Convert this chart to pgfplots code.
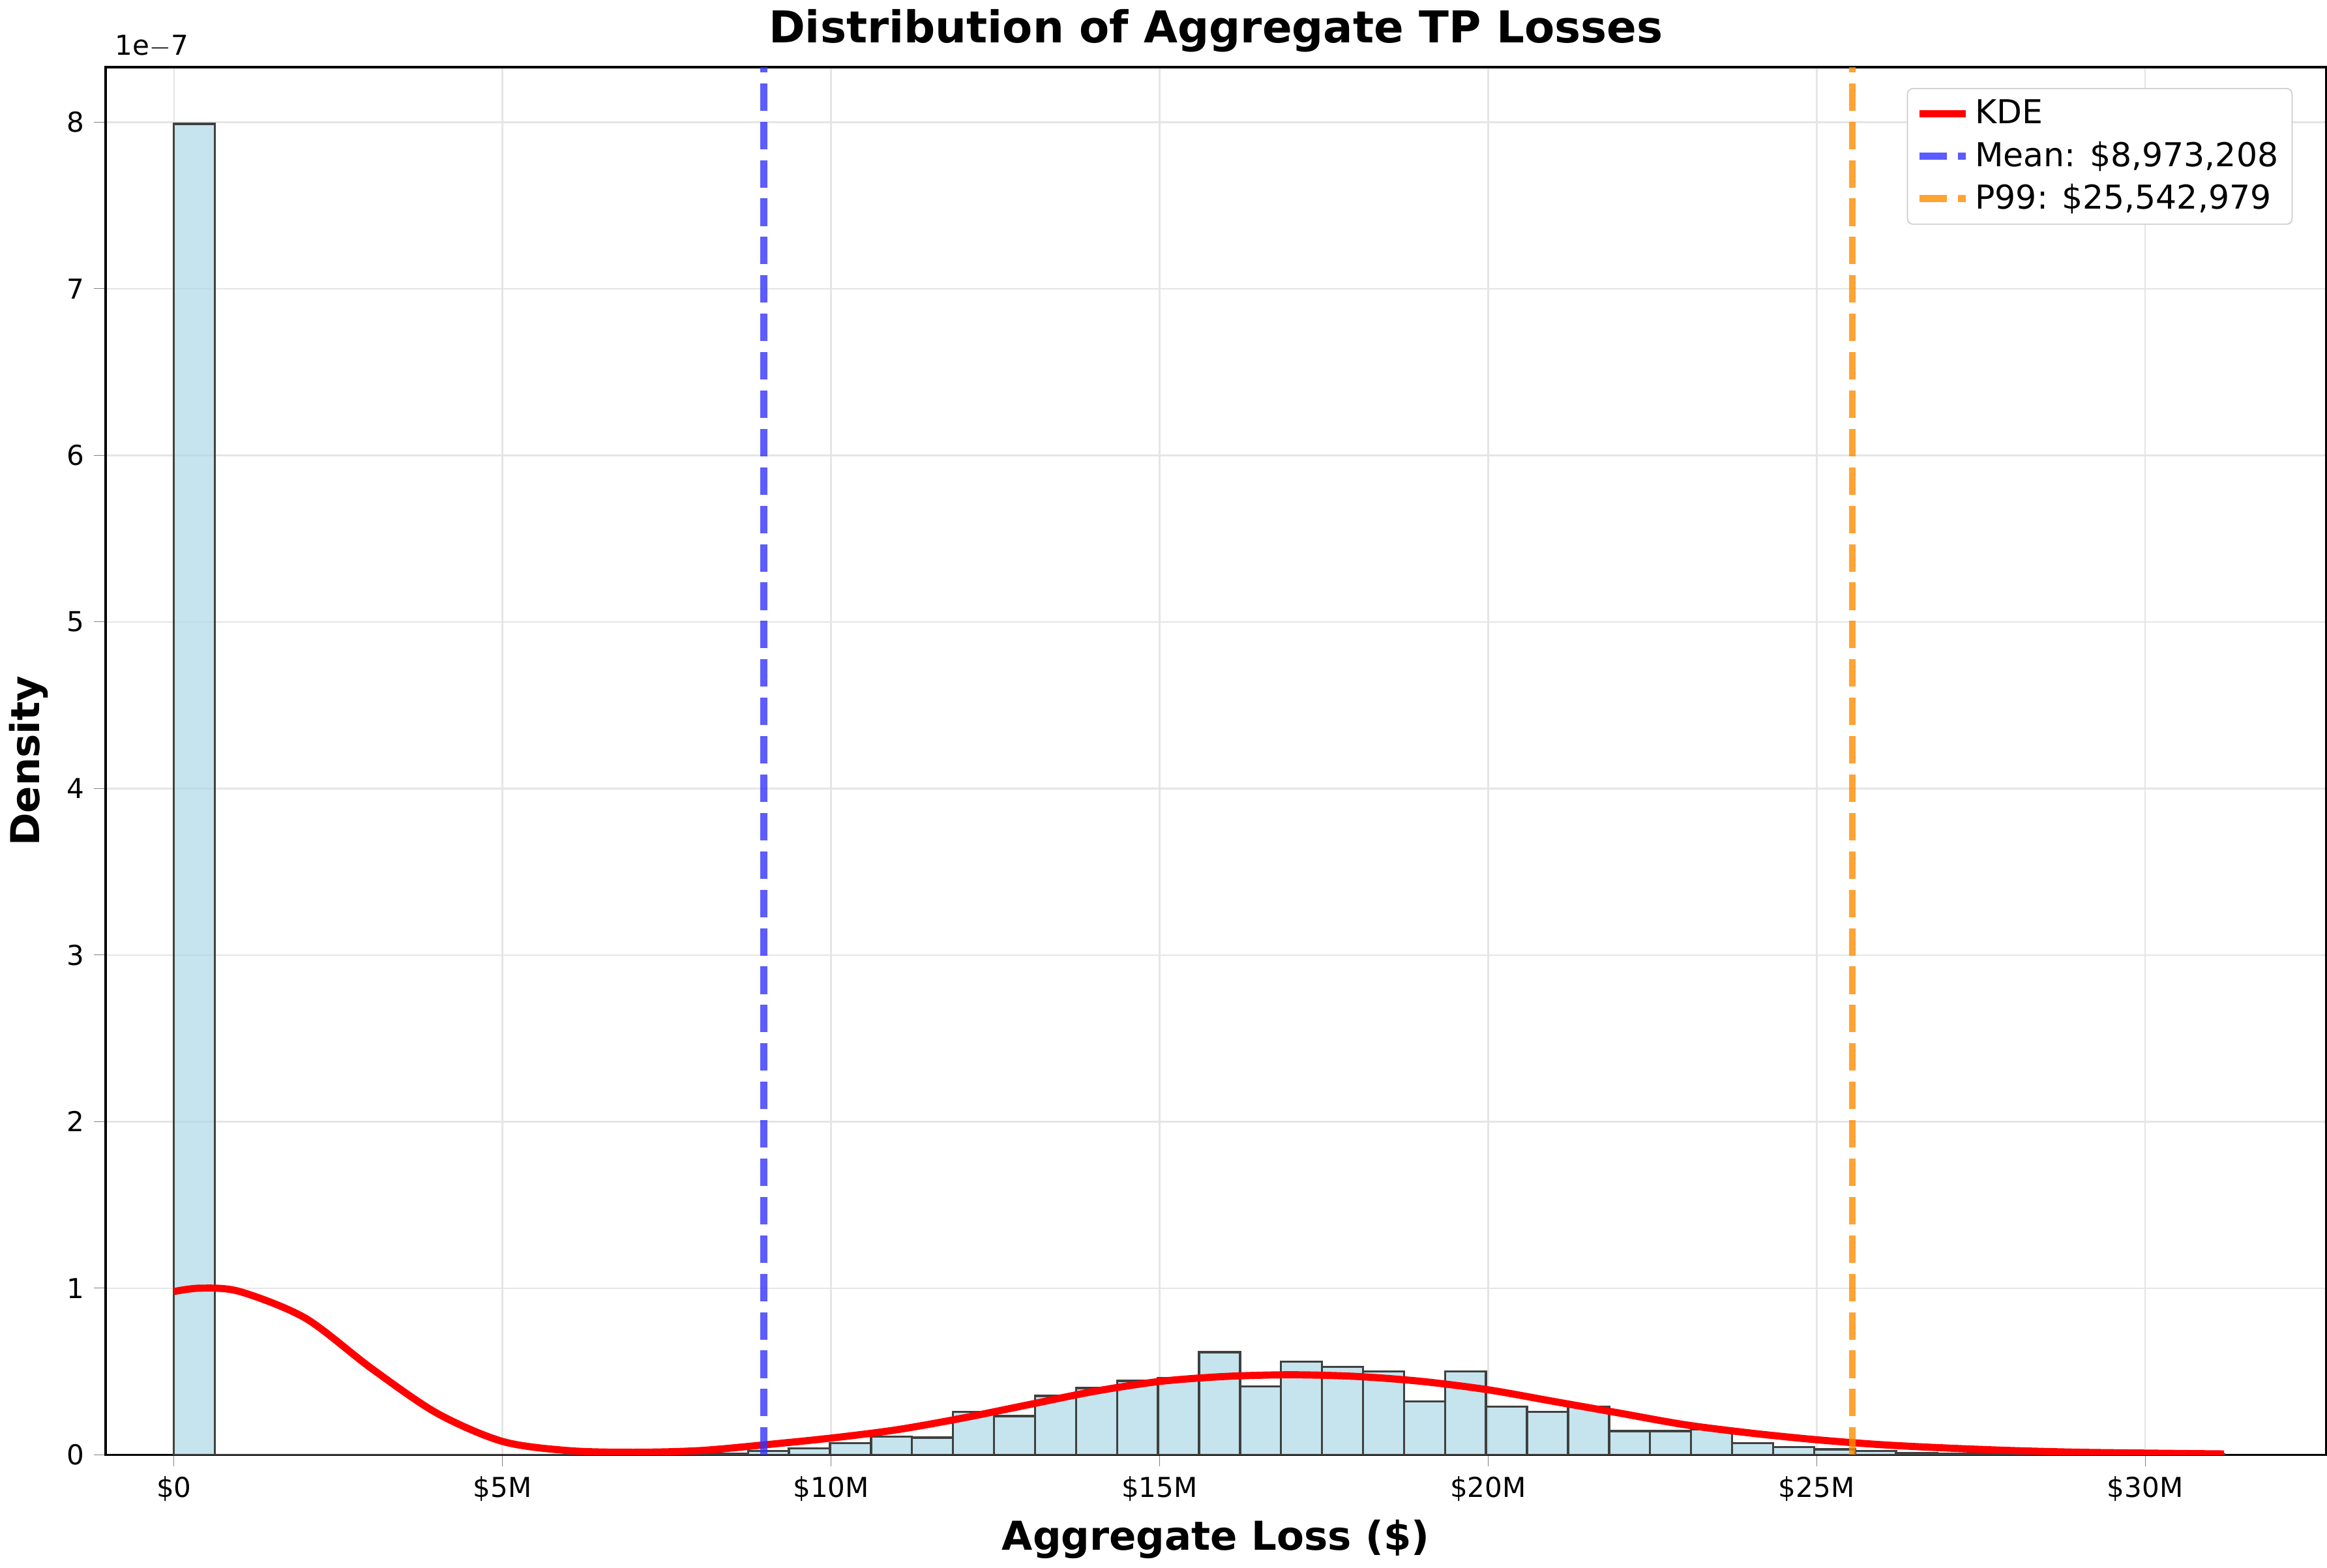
\documentclass[border=0pt]{standalone}
\usepackage{pgfplots}
\pgfplotsset{compat=1.18}
\usepackage{fontspec}
\setmainfont{DejaVu Sans}
\definecolor{barfill}{RGB}{173,216,230}
\begin{document}
\begin{tikzpicture}
\begin{axis}[
 scale only axis, width=11.2in, height=7.0in,
 xmin=-1.04, xmax=32.75, ymin=0, ymax=8.33,
 xtick={0,5,10,15,20,25,30},
 xticklabels={\$0,\$5M,\$10M,\$15M,\$20M,\$25M,\$30M},
 ytick={0,1,...,8},
 /pgf/number format/assume math mode=true,
 tick label style={font=\fontsize{10}{12}\selectfont},
 grid=major, grid style={gray!20, line width=0.6pt},
 xlabel={\textbf{Aggregate Loss (\$)}}, ylabel={\textbf{Density}},
 label style={font=\fontsize{14.5}{17}\selectfont},
 title={\textbf{Distribution of Aggregate TP Losses}},
 title style={font=\fontsize{16}{19}\selectfont, yshift=-4pt},
 tick align=outside, tick pos=left,
 legend style={at={(0.985,0.985)}, anchor=north east, font=\fontsize{12}{14}\selectfont, draw=gray!40, rounded corners=2pt, row sep=1pt},
 legend cell align=left,
 axis line style={line width=0.8pt},
]
\addplot[ybar interval, fill=barfill, fill opacity=0.7, draw=black!75, line width=0.8pt, forget plot] coordinates {
(0,7.99)(0.624,0)(1.248,0)(1.872,0)(2.496,0)(3.12,0)(3.744,0)(4.368,0)(4.992,0)(5.616,0)(6.24,0)(6.864,0)(7.488,0)(8.112,0.005)
(8.736,0.022)(9.36,0.039)(9.984,0.070)(10.608,0.109)(11.232,0.103)(11.856,0.257)(12.48,0.232)(13.104,0.354)(13.728,0.40)(14.352,0.443)
(14.976,0.46)(15.6,0.616)(16.224,0.41)(16.848,0.56)(17.472,0.527)(18.096,0.5)(18.72,0.32)(19.344,0.5)(19.968,0.29)(20.592,0.257)
(21.216,0.29)(21.84,0.142)(22.464,0.142)(23.088,0.151)(23.712,0.07)(24.336,0.047)(24.96,0.033)(25.584,0.022)(26.208,0.011)(26.832,0.008)
(27.456,0.005)(28.08,0.004)(28.704,0.003)(29.328,0.002)(29.952,0.002)(30.576,0.001)(31.2,0)};
\addplot[red, line width=2.6pt, smooth] coordinates {
(0,0.98)(0.4,1.0)(1,0.98)(2,0.82)(3,0.52)(4,0.25)(5,0.08)(6,0.025)(7,0.015)(8,0.025)(9,0.06)(10,0.1)(11,0.15)(12,0.22)(13,0.3)(14,0.38)(15,0.44)(16,0.47)(17,0.48)(18,0.47)(19,0.44)(20,0.39)(21,0.32)(22,0.25)(23,0.18)(24,0.13)(25,0.09)(26,0.06)(27,0.04)(28,0.025)(29,0.015)(30,0.01)(31.2,0.005)};
\addlegendentry{KDE}
\addplot[blue!80, opacity=0.8, line width=2.6pt, dash pattern=on 10pt off 4pt] coordinates {(8.973,0)(8.973,8.33)};
\addlegendentry{Mean: \$8,973,208}
\addplot[orange!90!yellow, opacity=0.8, line width=2.6pt, dash pattern=on 10pt off 4pt] coordinates {(25.543,0)(25.543,8.33)};
\addlegendentry{P99: \$25,542,979}
\end{axis}
\node[anchor=south west, font=\fontsize{10}{12}\selectfont] at (0,7.0in) {1e$-$7};
\end{tikzpicture}
\end{document}
